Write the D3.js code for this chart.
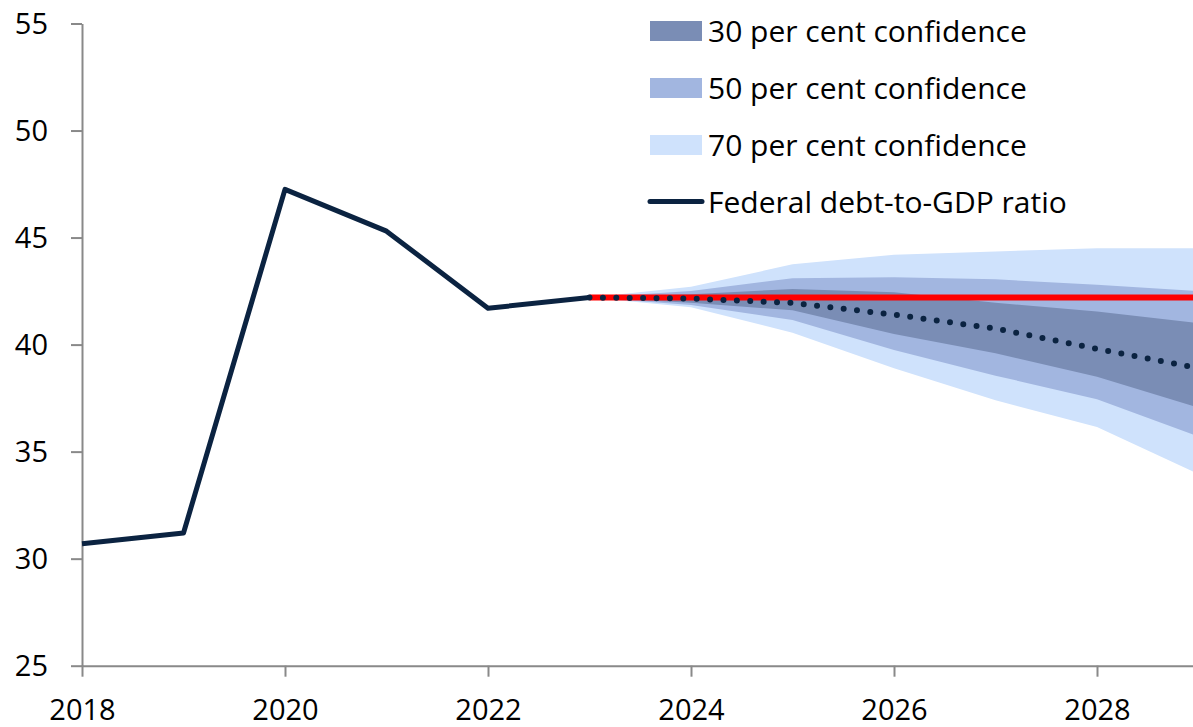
<!DOCTYPE html>
<html>
<head>
<meta charset="utf-8">
<script src="https://cdn.jsdelivr.net/npm/d3@7"></script>
<style>
  body { margin: 0; background: #fff; }
  svg { display: block; }
  svg text { font-family: 'Open Sans', 'Noto Sans', sans-serif; }
  .axis path, .axis line { stroke: #898989; stroke-width: 2; }
  .axis text { fill: #000; font-size: 29px; }
  .legendLabel { font-size: 30px; fill: #000; }
</style>
</head>
<body>
<div id="chart"></div>
<script>
const histYears = [2018, 2019, 2020, 2021, 2022, 2023];
const histDebt = [30.7, 31.2, 47.25, 45.3, 41.7, 42.2];

const projYears = [2023, 2024, 2025, 2026, 2027, 2028, 2029];
const projDebt = [42.2, 42.15, 41.95, 41.4, 40.75, 39.8, 38.9];
const budgetDebt = [42.2, 42.2, 42.2, 42.2, 42.2, 42.2, 42.2];

const low70 = [42.2, 41.75, 40.55, 38.9, 37.4, 36.15, 33.95];
const high70 = [42.2, 42.7, 43.75, 44.2, 44.35, 44.5, 44.5];
const low50 = [42.2, 41.85, 41.15, 39.75, 38.55, 37.45, 35.7];
const high50 = [42.2, 42.5, 43.1, 43.15, 43.05, 42.8, 42.5];
const low30 = [42.2, 41.95, 41.6, 40.5, 39.6, 38.5, 37.05];
const high30 = [42.2, 42.35, 42.6, 42.45, 41.95, 41.55, 41.0];

const yTicks = [25, 30, 35, 40, 45, 50, 55];
const xTicks = [2018, 2020, 2022, 2024, 2026, 2028];

const legendLabels = ['30 per cent confidence', '50 per cent confidence', '70 per cent confidence', 'Federal debt-to-GDP ratio'];

const width = 1193;
const height = 727;

const svg = d3.select('#chart').append('svg')
  .attr('width', width)
  .attr('height', height);

const xScale = d3.scaleLinear()
  .domain([2018, 2029])
  .range([82, 1198.5]);

const yScale = d3.scaleLinear()
  .domain([25, 55])
  .range([665.7, 23.5]);

// confidence bands, widest first
const bands = [
  { lo: low70, hi: high70, color: '#cfe2fc' },
  { lo: low50, hi: high50, color: '#a2b6e0' },
  { lo: low30, hi: high30, color: '#7a8db5' }
];
const legendColors = ['#7a8db5', '#a2b6e0', '#cfe2fc'];

const bandArea = d3.area()
  .x((d) => xScale(d.year))
  .y0((d) => yScale(d.lo))
  .y1((d) => yScale(d.hi));

svg.append('g')
  .attr('class', 'bandGroup')
  .selectAll('path')
  .data(bands)
  .join('path')
  .attr('d', (b) => bandArea(projYears.map((yr, i) => ({ year: yr, lo: b.lo[i], hi: b.hi[i] }))))
  .style('fill', (b) => b.color)
  .style('stroke', 'none');

// axes
const yAxis = d3.axisLeft(yScale)
  .tickValues(yTicks)
  .tickSizeInner(11)
  .tickSizeOuter(0)
  .tickPadding(23);

const yAxisG = svg.append('g')
  .attr('class', 'axis yAxis')
  .attr('transform', `translate(${xScale(2018)},0)`)
  .call(yAxis);

yAxisG.selectAll('.tick text')
  .attr('dy', '0.35em');

const xAxis = d3.axisBottom(xScale)
  .tickValues(xTicks)
  .tickFormat(d3.format('d'))
  .tickSizeInner(11)
  .tickSizeOuter(0)
  .tickPadding(23);

const xAxisG = svg.append('g')
  .attr('class', 'axis xAxis')
  .attr('transform', `translate(0,${yScale(25)})`)
  .call(xAxis);

xAxisG.selectAll('.tick text')
  .attr('dy', '0.71em');

// budget baseline (red)
const lineGen = d3.line()
  .x((d) => xScale(d[0]))
  .y((d) => yScale(d[1]));

svg.append('path')
  .datum(projYears.map((yr, i) => [yr, budgetDebt[i]]))
  .attr('d', lineGen)
  .style('stroke', '#ff0000')
  .style('stroke-width', 6)
  .style('fill', 'none');

// historical ratio
svg.append('path')
  .datum(histYears.map((yr, i) => [yr, histDebt[i]]))
  .attr('d', lineGen)
  .style('stroke', '#0b2341')
  .style('stroke-width', 5)
  .style('stroke-linejoin', 'round')
  .style('fill', 'none');

// projected ratio, dotted
svg.append('path')
  .datum(projYears.map((yr, i) => [yr, projDebt[i]]))
  .attr('d', lineGen)
  .style('stroke', '#0b2341')
  .style('stroke-width', 6)
  .style('stroke-linecap', 'round')
  .style('stroke-dasharray', '0 13.4')
  .style('fill', 'none');

// legend
const legend = svg.append('g')
  .attr('class', 'legend')
  .attr('transform', 'translate(650,0)');

const legendRows = legend.selectAll('g')
  .data(legendLabels)
  .join('g')
  .attr('transform', (d, i) => `translate(0,${i * 57})`);

legendRows.filter((d, i) => i < 3)
  .append('rect')
  .attr('x', 0)
  .attr('y', 21)
  .attr('width', 52)
  .attr('height', 20)
  .style('fill', (d, i) => legendColors[i]);

legendRows.filter((d, i) => i === 3)
  .append('line')
  .attr('x1', 0)
  .attr('x2', 52)
  .attr('y1', 30.5)
  .attr('y2', 30.5)
  .style('stroke', '#0b2341')
  .style('stroke-width', 5)
  .style('stroke-linecap', 'round');

legendRows.append('text')
  .attr('class', 'legendLabel')
  .attr('x', 58)
  .attr('y', 42)
  .text((d) => d);
</script>
</body>
</html>
